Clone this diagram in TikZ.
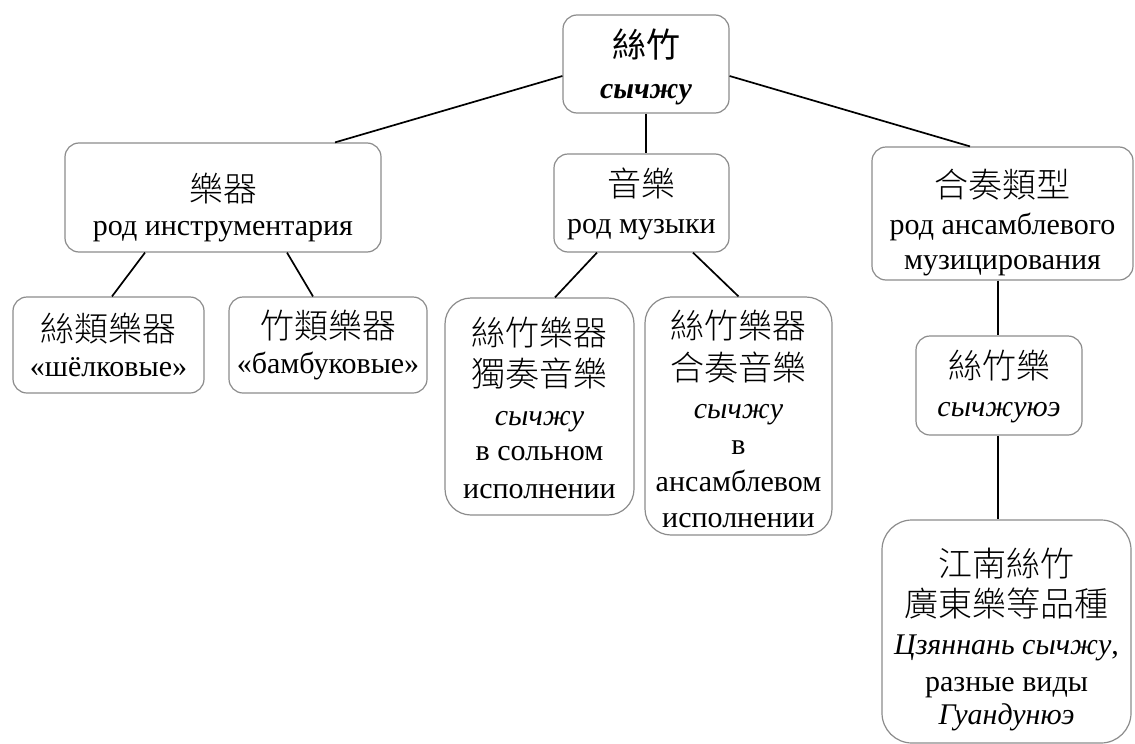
\documentclass[tikz,border=0pt]{standalone}
\usepackage{fontspec}
\setmainfont{Liberation Serif}
\IfFontExistsTF{Noto Sans CJK TC Light}
  {\newfontfamily\cjk{Noto Sans CJK TC Light}}
  {\newfontfamily\cjk{Noto Sans CJK TC}}
\newfontfamily\cjkreg{Noto Sans CJK TC}
\definecolor{boxgray}{HTML}{8C8C8C}
\tikzset{
  box/.style={draw=boxgray, line width=1.2pt, rounded corners=14pt, inner sep=0pt},
  bigbox/.style={box, rounded corners=26pt},
  txt/.style={align=center, inner sep=0pt, font=\fontsize{30}{37.5}\selectfont},
  link/.style={line width=1.7pt, draw=black}
}
\newcommand\zh[1]{{\cjk\fontsize{34}{38}\selectfont #1}}
\newcommand\zhb[1]{{\cjkreg\fontsize{34}{38}\selectfont #1}}
\begin{document}
\begin{tikzpicture}[x=1pt,y=-1pt]
\useasboundingbox (0,0) rectangle (1135,744);
\fill[white] (0,0) rectangle (1135,744);

% boxes
\node[box, minimum width=166pt, minimum height=98pt] (root) at (646,64) {};
\node[box, minimum width=316pt, minimum height=109pt] (yueqi) at (223,197.5) {};
\node[box, minimum width=175pt, minimum height=98pt] (yinyue) at (641.5,203) {};
\node[box, minimum width=261pt, minimum height=133pt] (hezou) at (1002.5,213.5) {};
\node[box, minimum width=191pt, minimum height=96pt] (silei) at (108.5,345) {};
\node[box, minimum width=198pt, minimum height=96pt] (zhulei) at (328,345) {};
\node[bigbox, minimum width=189pt, minimum height=217pt] (duzou) at (539.5,406.5) {};
\node[bigbox, minimum width=187pt, minimum height=238pt] (hezouyy) at (738.5,416) {};
\node[box, minimum width=166pt, minimum height=99pt] (sizhuyue) at (999,385.5) {};
\node[bigbox, rounded corners=30pt, minimum width=249pt, minimum height=223pt] (jiangnan) at (1006.5,631.5) {};

% texts
\node[txt] (root-t) at ([yshift=-3pt]root.center)
  {\zhb{絲竹}\\[4pt]\textbf{\textit{сычжу}}};
\node[txt] (yueqi-t) at ([yshift=-10pt]yueqi.center)
  {\zh{樂器}\\[-3pt]род инструментария};
\node[txt] (yinyue-t) at ([yshift=-1pt]yinyue.center)
  {\zh{音樂}\\[-1pt]род музыки};
\node[txt] (hezou-t) at ([yshift=-9pt]hezou.center)
  {\zh{合奏類型}\\род ансамблевого\\[-3pt]музицирования};
\node[txt] (silei-t) at (silei.center)
  {\zh{絲類樂器}\\[-2pt]«шёлковые»};
\node[txt] (zhulei-t) at (zhulei.center)
  {\zh{竹類樂器}\\[-2pt]«бамбуковые»};
\node[txt] (duzou-t) at ([yshift=-1pt]duzou.center)
  {\zh{絲竹樂器}\\[4pt]\zh{獨奏音樂}\\[1pt]\textit{сычжу}\\[-2pt]в сольном\\исполнении};
\node[txt] (hezouyy-t) at ([yshift=-3pt]hezouyy.center)
  {\zh{絲竹樂器}\\[4pt]\zh{合奏音樂}\\[1pt]\textit{сычжу}\\[-2pt]в\\ансамблевом\\[-2pt]исполнении};
\node[txt] (sizhuyue-t) at ([yshift=-1pt]sizhuyue.center)
  {\zh{絲竹樂}\\\textit{сычжуюэ}};
\node[txt] (jiangnan-t) at ([yshift=-8pt]jiangnan.center)
  {\zh{江南絲竹}\\[2pt]\zh{廣東樂等品種}\\[1pt]\textit{Цзяннань сычжу},\\[-1pt]разные виды\\[-4pt]\textit{Гуандунюэ}};

% connectors
\draw[link] ([yshift=-12pt]root.west) -- ([xshift=112pt]yueqi.north);
\draw[link] ([yshift=-12pt]root.east) -- ([xshift=-32.5pt]hezou.north);
\draw[link] (root.south) -- (root.south |- yinyue.north);
\draw[link] ([xshift=-78pt]yueqi.south) -- ([xshift=3.5pt]silei.north);
\draw[link] ([xshift=64pt]yueqi.south) -- ([xshift=-15pt]zhulei.north);
\draw[link] ([xshift=-44.5pt]yinyue.south) -- ([xshift=15.5pt]duzou.north);
\draw[link] ([xshift=51.5pt]yinyue.south) -- (hezouyy.north);
\draw[link] ([xshift=-4.5pt]hezou.south) -- ([xshift=-1pt]sizhuyue.north);
\draw[link] ([xshift=-1pt]sizhuyue.south) -- ([xshift=-8.5pt]jiangnan.north);
\end{tikzpicture}
\end{document}
